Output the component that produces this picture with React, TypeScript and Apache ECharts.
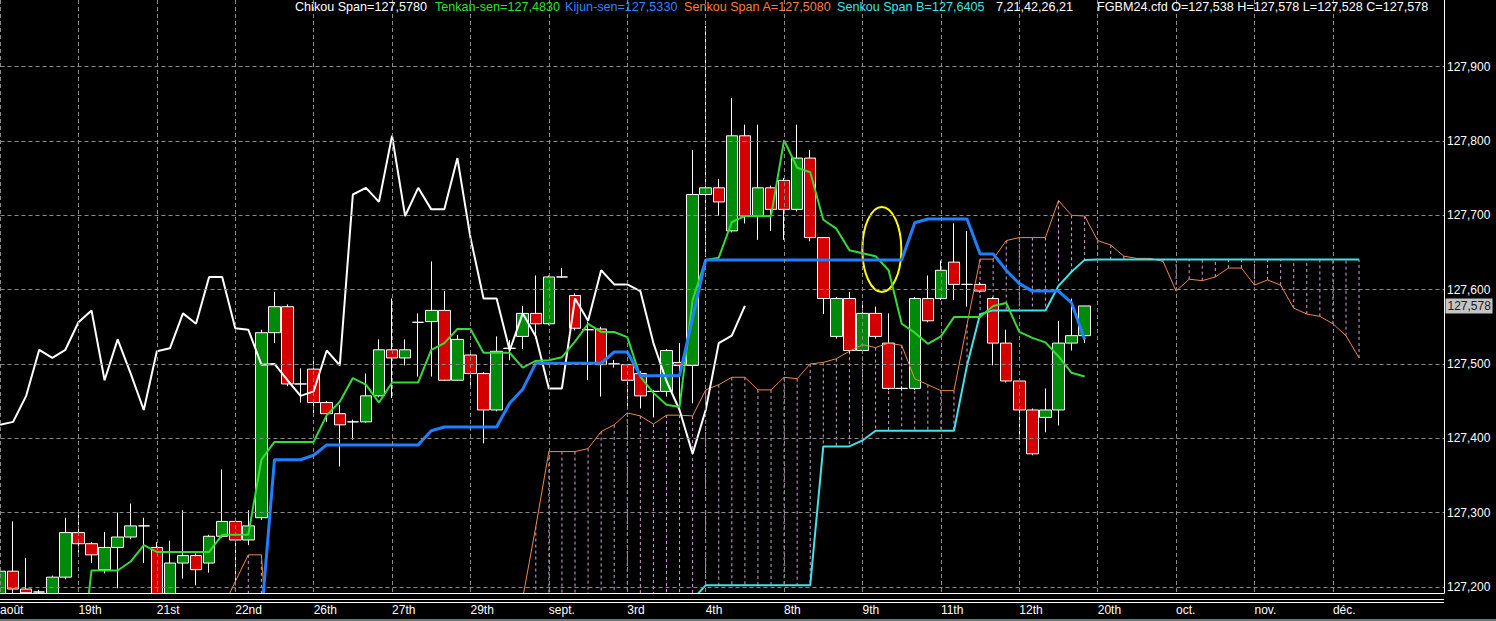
import React, { useEffect, useRef } from "react";
import * as echarts from "echarts";

// ---------- data ----------
const tickLabels = ["août", "19th", "21st", "22nd", "26th", "27th", "29th", "sept.", "3rd", "4th", "8th", "9th", "11th", "12th", "20th", "oct.", "nov.", "déc."];
const barsPerTick = 6;
const slotCount = 111;

const opens = [
  127.150, 127.221, 127.197, 127.193, 127.170, 127.213, 127.273, 127.258, 127.223, 127.253,
  127.267, 127.282, 127.253, 127.160, 127.232, 127.242, 127.232, 127.268, 127.288, 127.263,
  127.293, 127.542, 127.577, 127.473, 127.493, 127.448, 127.433, 127.422, 127.422, 127.457,
  127.519, 127.508, 127.556, 127.557, 127.572, 127.478, 127.512, 127.487, 127.438, 127.521,
  127.537, 127.568, 127.554, 127.617, 127.592, 127.546, 127.547, 127.500, 127.499, 127.487,
  127.463, 127.463, 127.502, 127.498, 127.728, 127.737, 127.679, 127.807, 127.699, 127.737,
  127.747, 127.708, 127.777, 127.670, 127.537, 127.588, 127.518, 127.568, 127.528, 127.467,
  127.467, 127.588, 127.588, 127.637, 127.607, 127.607, 127.588, 127.528, 127.477, 127.438,
  127.428, 127.438, 127.528, 127.538,
];
const closes = [
  127.221, 127.197, 127.192, 127.193, 127.213, 127.273, 127.258, 127.243, 127.253, 127.267,
  127.282, 127.282, 127.150, 127.232, 127.242, 127.223, 127.268, 127.288, 127.263, 127.282,
  127.542, 127.577, 127.473, 127.473, 127.448, 127.433, 127.418, 127.422, 127.457, 127.519,
  127.508, 127.519, 127.556, 127.572, 127.478, 127.533, 127.487, 127.438, 127.517, 127.521,
  127.568, 127.554, 127.617, 127.617, 127.548, 127.546, 127.499, 127.500, 127.478, 127.457,
  127.463, 127.518, 127.498, 127.728, 127.737, 127.718, 127.807, 127.699, 127.737, 127.708,
  127.708, 127.777, 127.670, 127.588, 127.588, 127.518, 127.568, 127.537, 127.467, 127.467,
  127.588, 127.558, 127.626, 127.607, 127.607, 127.598, 127.528, 127.477, 127.438, 127.379,
  127.438, 127.528, 127.538, 127.578,
];
const lows = [
  127.120, 127.190, 127.185, 127.180, 127.160, 127.210, 127.246, 127.232, 127.218, 127.198,
  127.264, 127.232, 127.140, 127.150, 127.211, 127.202, 127.219, 127.266, 127.202, 127.256,
  127.290, 127.528, 127.470, 127.448, 127.431, 127.422, 127.362, 127.398, 127.421, 127.455,
  127.454, 127.498, 127.483, 127.483, 127.477, 127.477, 127.469, 127.393, 127.436, 127.505,
  127.520, 127.534, 127.552, 127.616, 127.545, 127.478, 127.456, 127.495, 127.438, 127.440,
  127.428, 127.456, 127.438, 127.447, 127.644, 127.699, 127.677, 127.689, 127.667, 127.679,
  127.667, 127.705, 127.665, 127.567, 127.534, 127.515, 127.516, 127.534, 127.465, 127.464,
  127.465, 127.556, 127.586, 127.586, 127.577, 127.596, 127.498, 127.475, 127.398, 127.377,
  127.408, 127.417, 127.518, 127.528,
];
const highs = [
  127.234, 127.288, 127.239, 127.196, 127.215, 127.293, 127.303, 127.260, 127.274, 127.300,
  127.312, 127.293, 127.260, 127.262, 127.303, 127.245, 127.270, 127.358, 127.293, 127.303,
  127.546, 127.597, 127.580, 127.494, 127.504, 127.450, 127.445, 127.425, 127.487, 127.533,
  127.588, 127.533, 127.568, 127.638, 127.598, 127.539, 127.514, 127.489, 127.537, 127.532,
  127.578, 127.619, 127.619, 127.629, 127.595, 127.557, 127.550, 127.505, 127.500, 127.490,
  127.465, 127.520, 127.528, 127.788, 127.955, 127.749, 127.858, 127.822, 127.822, 127.740,
  127.750, 127.822, 127.788, 127.670, 127.590, 127.597, 127.582, 127.577, 127.568, 127.470,
  127.590, 127.619, 127.639, 127.689, 127.679, 127.610, 127.590, 127.546, 127.479, 127.440,
  127.467, 127.558, 127.588, 127.578,
];

const chikouSpan = [
  127.418, 127.422, 127.457, 127.519, 127.508, 127.519, 127.556, 127.572, 127.478, 127.533,
  127.487, 127.438, 127.517, 127.521, 127.568, 127.554, 127.617, 127.617, 127.548, 127.546,
  127.499, 127.500, 127.478, 127.457, 127.463, 127.518, 127.498, 127.728, 127.737, 127.718,
  127.807, 127.699, 127.737, 127.708, 127.708, 127.777, 127.670, 127.588, 127.588, 127.518,
  127.568, 127.537, 127.467, 127.467, 127.588, 127.558, 127.626, 127.607, 127.607, 127.598,
  127.528, 127.477, 127.438, 127.379, 127.438, 127.528, 127.538, 127.578,
];

const tenkanSen = [
  null, null, null, null, null, null, 127.070, 127.222, 127.222, 127.222,
  127.234, 127.256, 127.247, 127.247, 127.247, 127.247, 127.247, 127.270, 127.270, 127.270,
  127.371, 127.395, 127.395, 127.395, 127.395, 127.431, 127.449, 127.481, 127.472, 127.448,
  127.475, 127.475, 127.475, 127.519, 127.528, 127.547, 127.547, 127.515, 127.515, 127.515,
  127.495, 127.504, 127.505, 127.509, 127.530, 127.554, 127.543, 127.543, 127.536, 127.483,
  127.461, 127.445, 127.442, 127.586, 127.640, 127.643, 127.691, 127.699, 127.699, 127.699,
  127.801, 127.764, 127.758, 127.694, 127.682, 127.653, 127.649, 127.645, 127.626, 127.554,
  127.542, 127.527, 127.537, 127.563, 127.563, 127.563, 127.578, 127.582, 127.543, 127.535,
  127.529, 127.510, 127.488, 127.483,
];

const kijunSen = [
  null, null, null, null, null, null, null, null, null, null,
  null, null, null, null, null, null, null, null, null, null,
  127.160, 127.371, 127.371, 127.371, 127.377, 127.391, 127.391, 127.391, 127.391, 127.391,
  127.391, 127.391, 127.391, 127.410, 127.415, 127.415, 127.415, 127.415, 127.415, 127.447,
  127.466, 127.501, 127.501, 127.501, 127.501, 127.501, 127.501, 127.516, 127.516, 127.484,
  127.484, 127.484, 127.484, 127.562, 127.640, 127.640, 127.640, 127.640, 127.640, 127.640,
  127.640, 127.640, 127.640, 127.640, 127.640, 127.640, 127.640, 127.640, 127.640, 127.640,
  127.690, 127.695, 127.695, 127.695, 127.695, 127.648, 127.648, 127.626, 127.608, 127.598,
  127.598, 127.598, 127.582, 127.533,
];

const senkouA = [
  null, null, null, null, null, null, null, null, null, null,
  null, null, null, null, null, null, null, 127.170, 127.207, 127.243,
  127.243, 127.000, 127.000, 127.000, 127.000, 127.000, 127.000, 127.000, 127.000, 127.000,
  127.000, 127.000, 127.000, 127.000, 127.000, 127.000, 127.000, 127.000, 127.000, 127.000,
  127.185, 127.281, 127.382, 127.382, 127.382, 127.386, 127.409, 127.418, 127.434, 127.430,
  127.419, 127.431, 127.431, 127.430, 127.465, 127.472, 127.482, 127.482, 127.465, 127.465,
  127.482, 127.480, 127.500, 127.502, 127.507, 127.517, 127.526, 127.522, 127.528, 127.525,
  127.480, 127.472, 127.464, 127.464, 127.553, 127.641, 127.641, 127.666, 127.670, 127.670,
  127.670, 127.720, 127.700, 127.699, 127.666, 127.660, 127.645, 127.642, 127.642, 127.638,
  127.598, 127.614, 127.612, 127.617, 127.629, 127.629, 127.606, 127.613, 127.606, 127.575,
  127.567, 127.564, 127.554, 127.538, 127.508,
];

const senkouB = [
  null, null, null, null, null, null, null, null, null, null,
  null, null, null, null, null, null, null, null, 127.100, 127.100,
  127.100, 127.100, 127.100, 127.100, 127.100, 127.100, 127.100, 127.100, 127.100, 127.100,
  127.100, 127.100, 127.100, 127.100, 127.100, 127.100, 127.100, 127.100, 127.100, 127.100,
  127.100, 127.100, 127.100, 127.100, 127.100, 127.100, 127.100, 127.100, 127.100, 127.100,
  127.100, 127.100, 127.100, 127.183, 127.202, 127.202, 127.202, 127.202, 127.202, 127.202,
  127.202, 127.202, 127.202, 127.389, 127.389, 127.389, 127.397, 127.410, 127.410, 127.410,
  127.410, 127.410, 127.410, 127.410, 127.498, 127.567, 127.572, 127.572, 127.572, 127.572,
  127.572, 127.605, 127.624, 127.640, 127.6405, 127.6405, 127.6405, 127.6405, 127.6405, 127.6405,
  127.6405, 127.6405, 127.6405, 127.6405, 127.6405, 127.6405, 127.6405, 127.6405, 127.6405, 127.6405,
  127.6405, 127.6405, 127.6405, 127.6405, 127.6405,
];

const headerTexts = [
  "Chikou Span=127,5780",
  "Tenkan-sen=127,4830",
  "Kijun-sen=127,5330",
  "Senkou Span A=127,5080",
  "Senkou Span B=127,6405",
  "7,21,42,26,21",
  "FGBM24.cfd O=127,538 H=127,578 L=127,528 C=127,578",
];

// circled annotation (bar index, price)
const circleBar = 67;
const circlePrice = 127.654;

// ---------- layout / style ----------
const headerX = [295, 435, 565, 684, 837, 996, 1097];
const headerColors = ["#ffffff", "#2ee02e", "#2f86ff", "#f08040", "#3fe3e3", "#ffffff", "#ffffff"];
const FONT = '"Liberation Sans", Arial, sans-serif';
const GRID_COLOR = "#8a8a8a";

export default function App() {
  const ref = useRef<HTMLDivElement>(null);

  useEffect(() => {
    const el = ref.current;
    if (!el) return;
    const chart = echarts.init(el, undefined, { renderer: "svg" });

    const categories = Array.from({ length: slotCount }, (_, i) => String(i));
    const candleData = opens.map((o, i) => [o, closes[i], lows[i], highs[i]]);
    const cloudData: any[] = [];
    senkouA.forEach((a, i) => {
      const b = senkouB[i];
      if (a != null && b != null) cloudData.push([i, a, b]);
    });
    const lastIdx = closes.length - 1;
    const showTick = (i: number) => i % barsPerTick === 0 && i / barsPerTick < tickLabels.length;
    const fmt = (v: number) => v.toFixed(3).replace(".", ",");

    const lineSeries = (data: any[], color: string, width: number) => ({
      type: "line",
      data,
      symbol: "none",
      showSymbol: false,
      connectNulls: false,
      silent: true,
      clip: true,
      lineStyle: { color, width },
    });

    chart.setOption({
      animation: false,
      backgroundColor: "#000000",
      grid: { left: -6.5, top: 0, width: 1450.5, height: 593, outerBoundsMode: "none", containLabel: false },
      xAxis: {
        type: "category",
        data: categories,
        boundaryGap: true,
        z: 60,
        axisLine: { onZero: false, lineStyle: { color: "#ffffff", width: 1 } },
        axisTick: { show: false },
        axisLabel: {
          interval: (i: number) => showTick(i),
          formatter: (_v: string, i: number) => tickLabels[i / barsPerTick] ?? "",
          color: "#ffffff",
          fontSize: 12,
          fontFamily: FONT,
          align: "left",
          margin: 11,
        },
        splitLine: {
          show: true,
          interval: (i: number) => showTick(i),
          alignWithLabel: true,
          lineStyle: { color: GRID_COLOR, type: [4, 3], width: 1 },
        },
      },
      yAxis: {
        type: "value",
        position: "right",
        min: 127.19166,
        max: 127.98977,
        splitNumber: 8,
        z: 60,
        axisLine: { show: true, onZero: false, lineStyle: { color: "#ffffff", width: 1 } },
        axisTick: { show: false },
        axisLabel: {
          color: "#ffffff",
          fontSize: 12,
          fontFamily: FONT,
          margin: 3,
          showMinLabel: false,
          showMaxLabel: false,
          formatter: fmt,
        },
        splitLine: {
          show: true,
          showMinLine: false,
          showMaxLine: false,
          lineStyle: { color: GRID_COLOR, type: [4, 3], width: 1 },
        },
      },
      series: [
        {
          type: "candlestick",
          data: candleData,
          barWidth: 12,
          silent: true,
          clip: true,
          itemStyle: {
            color: "#008a0a",
            color0: "#d40000",
            borderColor: "#ffffff",
            borderColor0: "#ffffff",
            borderColorDoji: "#ffffff",
            borderWidth: 1,
          },
        },
        {
          type: "custom",
          data: cloudData,
          clip: true,
          silent: true,
          encode: { x: 0, y: [1, 2] },
          renderItem: (_params: any, api: any) => {
            const x = api.value(0);
            const p1 = api.coord([x, api.value(1)]);
            const p2 = api.coord([x, api.value(2)]);
            return {
              type: "line",
              shape: { x1: p1[0], y1: p1[1], x2: p2[0], y2: p2[1] },
              style: { stroke: "#dc9ee0", lineWidth: 1, lineDash: [3, 3] },
            };
          },
        },
        lineSeries(senkouA, "#f0874a", 1),
        lineSeries(senkouB, "#3fe3e8", 2),
        lineSeries(chikouSpan, "#ffffff", 2),
        lineSeries(tenkanSen, "#33dd33", 2),
        lineSeries(kijunSen, "#1f80ff", 3),
        {
          type: "custom",
          data: [[circleBar, circlePrice]],
          clip: false,
          silent: true,
          renderItem: (_params: any, api: any) => {
            const c = api.coord([api.value(0), api.value(1)]);
            const band = api.size([1, 0])[0];
            const ry = api.size([0, 0.0572])[1];
            return {
              type: "ellipse",
              shape: { cx: c[0] + band * 0.48, cy: c[1], rx: band * 1.49, ry },
              style: { fill: "none", stroke: "#ffff00", lineWidth: 2 },
            };
          },
        },
        {
          type: "custom",
          data: [[lastIdx, closes[lastIdx]]],
          clip: false,
          silent: true,
          z: 70,
          renderItem: (params: any, api: any) => {
            const y = api.coord([api.value(0), api.value(1)])[1];
            const cs = params.coordSys;
            const x = cs.x + cs.width + 1.5;
            return {
              type: "group",
              children: [
                { type: "rect", shape: { x, y: y - 7.5, width: 47, height: 15 }, style: { fill: "#c4c4c4" } },
                {
                  type: "text",
                  style: {
                    text: fmt(api.value(1)),
                    x: x + 2,
                    y,
                    verticalAlign: "middle",
                    fill: "#1a1a1a",
                    font: `12px ${FONT}`,
                  },
                },
              ],
            };
          },
        },
      ],
      graphic: [
        // mask below the plotting area so that bars reaching below the axis minimum are cut off
        { type: "rect", silent: true, z: 50, shape: { x: 0, y: 594, width: 1496, height: 27 }, style: { fill: "#000000" } },
        ...headerTexts.map((t, k) => ({
          type: "text",
          x: headerX[k],
          y: 0,
          z: 65,
          silent: true,
          style: { text: t, fill: headerColors[k], font: `12.6px ${FONT}`, verticalAlign: "top" },
        })),
        { type: "line", silent: true, z: 65, shape: { x1: 0, y1: 599.5, x2: 1444, y2: 599.5 }, style: { stroke: "#ffffff", lineWidth: 1 } },
        { type: "line", silent: true, z: 65, shape: { x1: 0, y1: 602.5, x2: 1444, y2: 602.5 }, style: { stroke: "#ffffff", lineWidth: 1 } },
        { type: "rect", silent: true, z: 65, shape: { x: 0, y: 619, width: 1496, height: 2 }, style: { fill: "#687878" } },
      ],
    });

    return () => chart.dispose();
  }, []);

  return (
    <div
      ref={ref}
      style={{ position: "fixed", left: 0, top: 0, width: 1496, height: 621, background: "#000" }}
    />
  );
}
